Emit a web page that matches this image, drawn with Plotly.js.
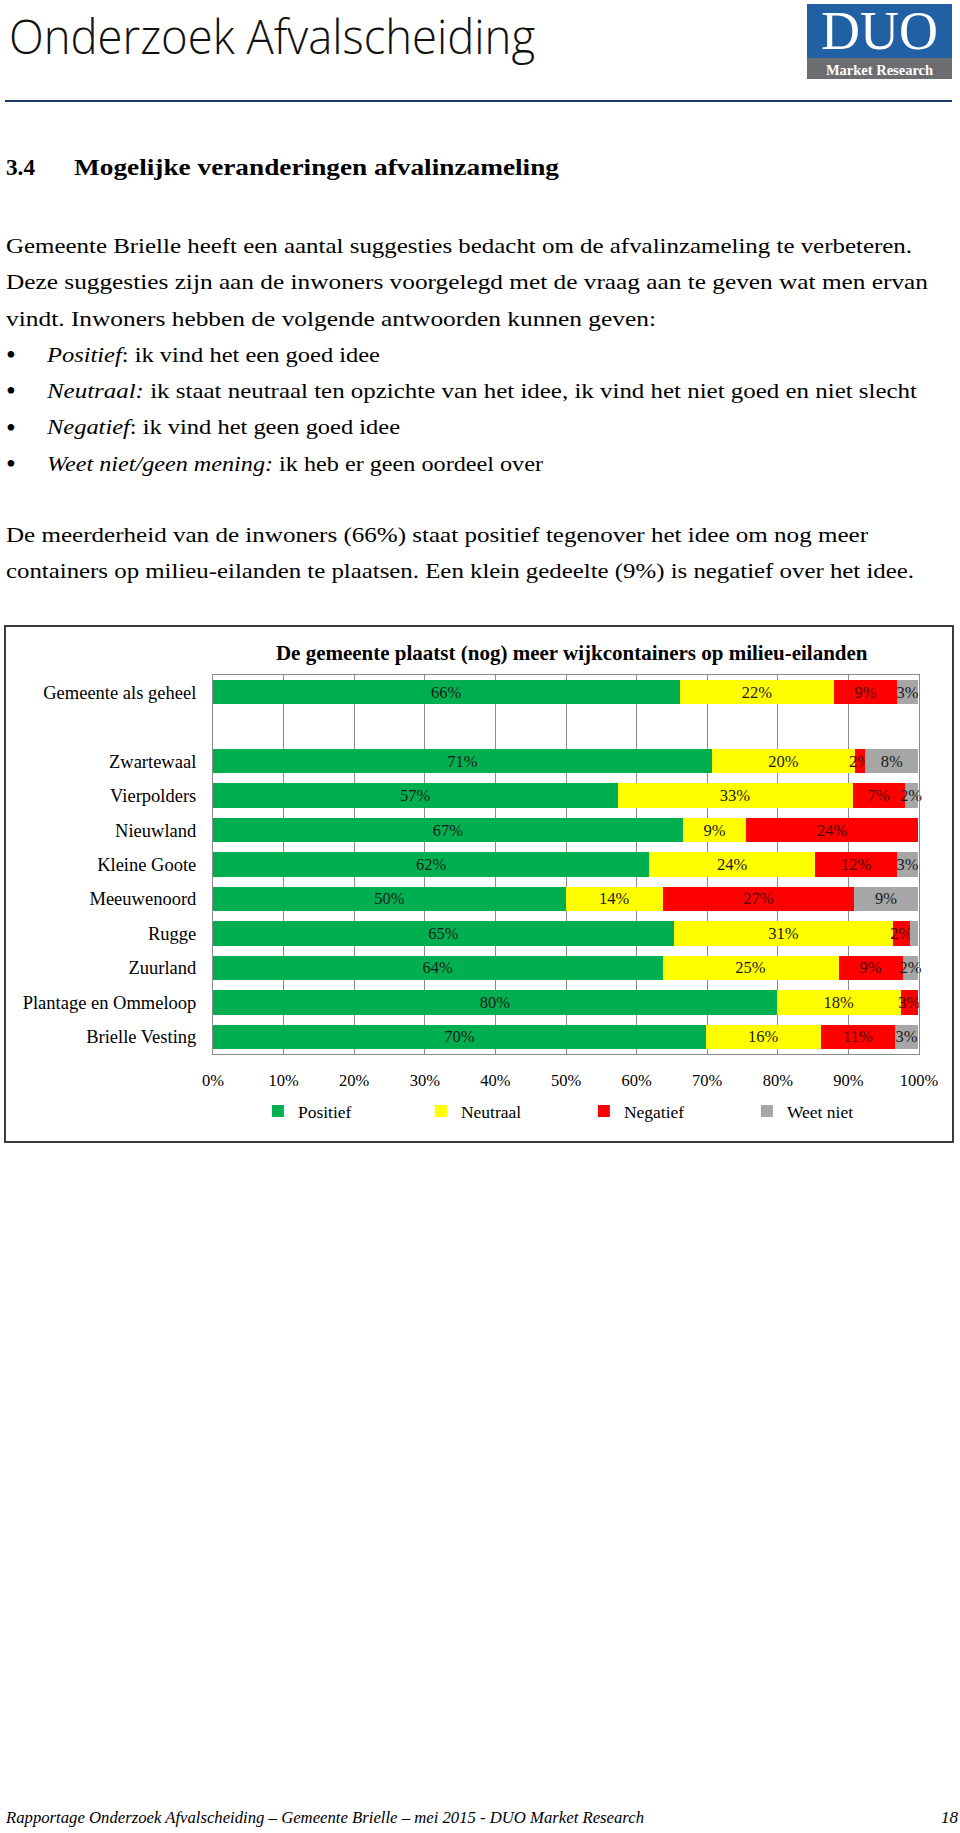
<!DOCTYPE html>
<html>
<head>
<meta charset="utf-8">
<script src="https://cdn.plot.ly/plotly-3.0.1.min.js"></script>
<style>
  html, body { margin: 0; padding: 0; background: #fff; }
  #page { position: relative; width: 960px; height: 1833px; overflow: hidden; background: #fff; }
  .t { position: absolute; white-space: nowrap; font-family: "Liberation Serif", serif; color: #000; transform-origin: 0 0; }
  #logo { position: absolute; left: 807px; top: 4px; width: 145px; height: 75px; background: #2161a3; }
  #logoBand { position: absolute; left: 0; top: 54px; width: 145px; height: 21px; background: #6b6d70; }
  #rule { position: absolute; left: 5px; top: 100px; width: 947px; height: 2px; background: #1f3a68; }
  #chartBox { position: absolute; left: 4px; top: 625px; width: 946px; height: 514px; border: 2px solid #3a3a3a; }
  #chart { position: absolute; left: 0; top: 0; width: 946px; height: 514px; }
</style>
</head>
<body>
<div id="page">
  <div id="logo"><div id="logoBand"></div></div>
  <div id="rule"></div>
  <div id="chartBox"><div id="chart"></div></div>
</div>
<script>
// ---------------- chart data ----------------
const categories = ['Gemeente als geheel', 'Zwartewaal', 'Vierpolders', 'Nieuwland', 'Kleine Goote',
                    'Meeuwenoord', 'Rugge', 'Zuurland', 'Plantage en Ommeloop', 'Brielle Vesting'];
const positief = [66.1, 70.7, 57.3, 66.6, 61.8, 50.0, 65.3, 63.7, 79.9, 69.8];
const neutraal = [21.9, 20.2, 33.3, 8.9, 23.5, 13.7, 31.0, 24.9, 17.5, 16.3];
const negatief = [8.9, 1.5, 7.4, 24.4, 11.6, 27.1, 2.4, 9.1, 2.5, 10.5];
const weetNiet = [3.0, 7.5, 1.8, null, 3.0, 9.1, 1.2, 2.2, null, 3.3];
const seriesNames = ['Positief', 'Neutraal', 'Negatief', 'Weet niet'];
const tickValues = [0, 10, 20, 30, 40, 50, 60, 70, 80, 90, 100];
const tickLabels = ['0%', '10%', '20%', '30%', '40%', '50%', '60%', '70%', '80%', '90%', '100%'];
const chartTitle = 'De gemeente plaatst (nog) meer wijkcontainers op milieu-eilanden';

// ---------------- page text ----------------
const SERIF = '"Liberation Serif", serif';
const page = document.getElementById('page');
function line(html, x, base, w, size, opts) {
  opts = opts || {};
  const el = document.createElement('div');
  el.className = 't';
  el.innerHTML = html;
  const lh = opts.lh || size;
  const a = opts.a || 0.891, d = opts.d || 0.216;
  el.style.fontSize = size + 'px';
  el.style.lineHeight = lh + 'px';
  el.style.left = x + 'px';
  el.style.top = (base - ((lh - (a + d) * size) / 2 + a * size)) + 'px';
  if (opts.family) el.style.fontFamily = opts.family;
  if (opts.weight) el.style.fontWeight = opts.weight;
  if (opts.style) el.style.fontStyle = opts.style;
  if (opts.color) el.style.color = opts.color;
  if (opts.center) { el.style.left = '0px'; el.style.width = opts.center + 'px'; el.style.textAlign = 'center'; }
  if (w) el.dataset.w = w;
  (opts.parent || page).appendChild(el);
  return el;
}
function fit() {
  document.querySelectorAll('[data-w]').forEach(function (el) {
    el.style.transform = 'none';
    const w = el.getBoundingClientRect().width;
    if (w > 0) el.style.transform = 'scaleX(' + (+el.dataset.w / w) + ')';
  });
}

line('Onderzoek Afvalscheiding', 9, 55, 526, 48, {family: '"Open Sans", sans-serif', weight: 300, a: 1.069, d: 0.293, color: '#111'});
const logo = document.getElementById('logo');
line('DUO', 0, 45.5, 0, 54, {parent: logo, color: '#fff', center: 145, lh: 44});
line('Market Research', 0, 71.3, 0, 14.5, {parent: logo, color: '#fff', weight: 'bold', center: 145});

line('3.4', 6, 175, 29, 23, {weight: 'bold'});
line('Mogelijke veranderingen afvalinzameling', 74, 175, 485, 23, {weight: 'bold'});

const P = 21;
line('Gemeente Brielle heeft een aantal suggesties bedacht om de afvalinzameling te verbeteren.', 6, 253.5, 906, P);
line('Deze suggesties zijn aan de inwoners voorgelegd met de vraag aan te geven wat men ervan', 6, 289.8, 922, P);
line('vindt. Inwoners hebben de volgende antwoorden kunnen geven:', 6, 326.1, 650, P);
const bullets = [
  ['<i>Positief</i>: ik vind het een goed idee', 362.4, 333],
  ['<i>Neutraal:</i> ik staat neutraal ten opzichte van het idee, ik vind het niet goed en niet slecht', 398.7, 870],
  ['<i>Negatief</i>: ik vind het geen goed idee', 435.0, 353],
  ['<i>Weet niet/geen mening:</i> ik heb er geen oordeel over', 471.3, 496]
];
bullets.forEach(function (b) {
  line('&#8226;', 6, b[1] + 2, 0, 28);
  line(b[0], 47, b[1], b[2], P);
});
line('De meerderheid van de inwoners (66%) staat positief tegenover het idee om nog meer', 6, 542.5, 862, P);
line('containers op milieu-eilanden te plaatsen. Een klein gedeelte (9%) is negatief over het idee.', 6, 578.8, 908, P);

line('Rapportage Onderzoek Afvalscheiding – Gemeente Brielle – mei 2015 - DUO Market Research', 6, 1824, 638, 16.5, {style: 'italic'});
line('18', 941, 1824, 17, 16.5, {style: 'italic'});

fit();
if (document.fonts && document.fonts.ready) document.fonts.ready.then(fit);

// ---------------- chart ----------------
const seriesValues = [positief, neutraal, negatief, weetNiet];
const seriesColors = ['#00b050', '#ffff00', '#ff0000', '#a6a6a6'];
const labelColors = ['#1a1a1a', '#1a1a1a', '#4a0000', '#1a1a1a'];

const traces = seriesValues.map(function (vals, i) {
  return {
    type: 'bar',
    orientation: 'h',
    name: seriesNames[i],
    y: categories,
    x: vals,
    marker: {color: seriesColors[i], line: {width: 0}},
    text: vals.map(function (v) { return (v == null || v < 1.4) ? '' : Math.round(v) + '%'; }),
    textposition: 'inside',
    insidetextanchor: 'middle',
    textangle: 0,
    constraintext: 'none',
    cliponaxis: false,
    textfont: {family: SERIF, size: 16.5, color: labelColors[i]},
    hoverinfo: 'skip'
  };
});

const categorySlots = [categories[0], ' '].concat(categories.slice(1));

const layout = {
  width: 946,
  height: 514,
  margin: {l: 207, r: 33, t: 48, b: 78, pad: 0},
  paper_bgcolor: '#ffffff',
  plot_bgcolor: '#ffffff',
  barmode: 'stack',
  bargap: 0.29,
  font: {family: SERIF, size: 16, color: '#000'},
  showlegend: true,
  title: {
    text: chartTitle,
    font: {family: SERIF, size: 21, weight: 700, color: '#000'},
    xref: 'container', x: 0.598, xanchor: 'center',
    yref: 'container', y: 0.951, yanchor: 'middle'
  },
  xaxis: {
    range: [0, 100],
    tickmode: 'array',
    tickvals: tickValues,
    ticktext: tickLabels,
    showgrid: true,
    gridcolor: '#8a8a8a',
    gridwidth: 1,
    showline: true,
    linecolor: '#8a8a8a',
    linewidth: 1,
    mirror: true,
    zeroline: false,
    ticks: '',
    ticklabelstandoff: 11,
    tickfont: {family: SERIF, size: 16.5, color: '#000'},
    fixedrange: true
  },
  yaxis: {
    type: 'category',
    categoryorder: 'array',
    categoryarray: categorySlots,
    range: [10.5, -0.5],
    showgrid: false,
    showline: true,
    linecolor: '#8a8a8a',
    linewidth: 1,
    mirror: true,
    zeroline: false,
    ticks: '',
    ticklabelstandoff: 12,
    tickfont: {family: SERIF, size: 18.5, color: '#000'},
    fixedrange: true
  },
  legend: {
    orientation: 'h',
    x: 0.0636, xanchor: 'left',
    y: -0.151, yanchor: 'middle',
    traceorder: 'normal',
    font: {family: SERIF, size: 17.5, color: '#000'},
    entrywidth: 118,
    entrywidthmode: 'pixels',
    bgcolor: 'rgba(0,0,0,0)',
    borderwidth: 0
  }
};

Plotly.newPlot('chart', traces, layout, {displayModeBar: false, staticPlot: true});
</script>
</body>
</html>
